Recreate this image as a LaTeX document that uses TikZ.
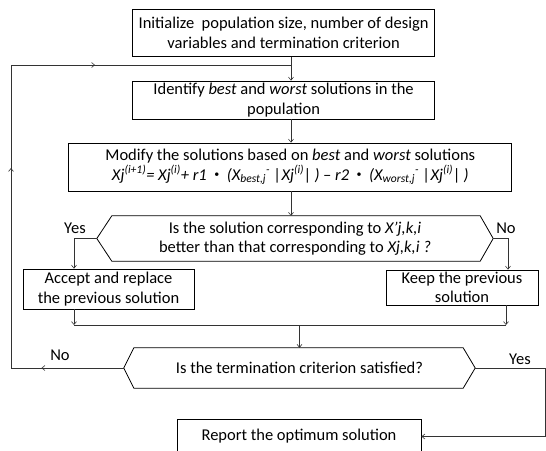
\documentclass[tikz,border=0pt]{standalone}
\usepackage{fontspec}
\setmainfont{Carlito}
\usetikzlibrary{arrows.meta,calc}
\definecolor{lineg}{rgb}{0.2,0.2,0.2}
\newcommand{\mulpt}{\raisebox{0.32ex}{\fontsize{10}{10}\selectfont\upshape•}}

\begin{document}
\begin{tikzpicture}[x=1pt, y=-1pt,
    txt/.style={align=center, inner sep=0pt, font=\fontsize{16.5}{19.5}\selectfont},
    box/.style={txt, draw, line width=0.8pt},
    flow/.style={line width=0.6pt, color=lineg},
    tip/.style={-{Straight Barb[length=3pt,width=5pt]}}]
    \useasboundingbox (0,0) rectangle (546,450);
    \clip (0,0) rectangle (546,450);
    % process boxes
    \node[box, minimum width=302, minimum height=47] (init) at (283.6,33) {Initialize\ \ population size, number of design\\variables and termination criterion};
    \node[box, minimum width=302, minimum height=38] (ident) at (283.6,100) {Identify \textit{best} and \textit{worst} solutions in the\\population};
    \node[box, minimum width=443, minimum height=48] (modify) at (290.3,167) {Modify the solutions based on \textit{best} and \textit{worst} solutions\\\textit{Xj\textsuperscript{(i+1)}= Xj\textsuperscript{(i)}+ r1\ \ \mulpt\ \ (X\textsubscript{best,j}\textsuperscript{-}\ |Xj\textsuperscript{(i)}|\,)~– r2\ \ \mulpt\ \ (X\textsubscript{worst,j}\textsuperscript{-}\ |Xj\textsuperscript{(i)}|\,)}};
    \node[box, minimum width=171, minimum height=40] (accept) at (108.5,289) {Accept and replace\\the previous solution};
    \node[box, minimum width=152, minimum height=35] (keep) at (462,287.5) {Keep the previous\\solution};
    \node[box, minimum width=244, minimum height=35] (report) at (299,436.5) {Report the optimum solution};
    % decisions
    \node[txt, minimum width=396, minimum height=45] (test1) at (295,238.5) {Is the solution corresponding to \textit{X'j,k,i}\\better than that corresponding to \textit{Xj,k,i ?}};
    \draw[line width=0.8pt] (test1.west) -- ($(test1.north west)+(15,0)$) -- ($(test1.north east)+(-13,0)$) -- (test1.east) -- ($(test1.south east)+(-13,0)$) -- ($(test1.south west)+(15,0)$) -- cycle;
    \node[txt, minimum width=351, minimum height=40] (test2) at (299.5,368) {Is the termination criterion satisfied?};
    \draw[line width=0.8pt] (test2.west) -- ($(test2.north west)+(10,0)$) -- ($(test2.north east)+(-12,0)$) -- (test2.east) -- ($(test2.south east)+(-12,0)$) -- ($(test2.south west)+(10,0)$) -- cycle;
    % labels
    \node[txt] (yes1) at (75,228) {Yes};
    \node[txt] (no1) at (506,228) {No};
    \node[txt] (no2) at (60,355) {No};
    \node[txt] (yes2) at (520,359) {Yes};
    % helper coordinates
    \coordinate (spine) at (291,0);
    \coordinate (leftx) at (74,0);
    \coordinate (rightx) at (508,0);
    \coordinate (keepx) at (506,0);
    \coordinate (merge) at (0,325);
    \coordinate (edge) at (545.6,0);
    \coordinate (lb) at (11,368);
    \coordinate (lt) at (11,65);
    \coordinate (jn) at (291,65);
    % main flow
    \draw[flow, tip] (init.south -| spine) -- (ident.north -| spine);
    \draw[flow, tip] (ident.south -| spine) -- (modify.north -| spine);
    \draw[flow, tip] (modify.south -| spine) -- (test1.north -| spine);
    \draw[flow, tip] (test1.west) -| (accept.north -| leftx);
    \draw[flow, tip] (test1.east) -| (keep.north -| rightx);
    \draw[flow, tip] (accept.south -| leftx) -- (leftx |- merge);
    \draw[flow, tip] (keep.south -| keepx) -- (keepx |- merge);
    \draw[flow] (leftx |- merge) -- (keepx |- merge);
    \draw[flow, tip] (merge -| test2) -- (test2.north);
    % loop back
    \draw[flow] (test2.west) -- (lb) -- (lt) -- (jn);
    \draw[flow, tip] (test2.west) -- ($(test2.west)!0.73!(lb)$);
    \draw[flow, tip] (lb) -- ($(lb)!0.66!(lt)$);
    \draw[flow, tip] (lt) -- ($(lt)!0.30!(jn)$);
    % exit
    \draw[flow, tip] (test2.east) -- (test2.east -| edge) -- (edge |- report.east) -- (report.east);
\end{tikzpicture}
\end{document}
